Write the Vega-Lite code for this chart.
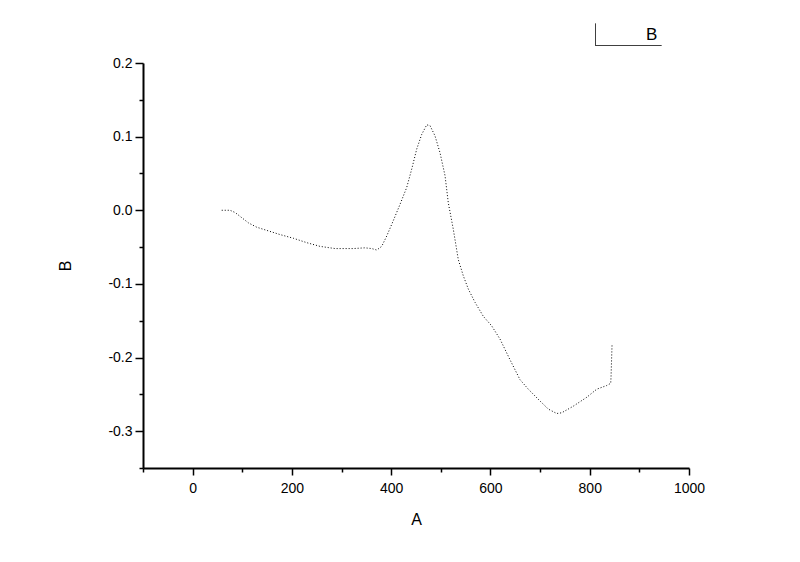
{
  "$schema": "https://vega.github.io/schema/vega-lite/v6.json",
  "width": 546,
  "height": 405,
  "autosize": "none",
  "padding": {"left": 143, "top": 63, "right": 111, "bottom": 94},
  "background": "white",
  "config": {"view": {"stroke": null}, "font": "Liberation Sans"},
  "data": {"values": [
    {"A": 58.6, "B": 0.0, "series": "B"},
    {"A": 75.3, "B": 0.0, "series": "B"},
    {"A": 85.4, "B": -0.003, "series": "B"},
    {"A": 98.9, "B": -0.010, "series": "B"},
    {"A": 112.2, "B": -0.017, "series": "B"},
    {"A": 129.1, "B": -0.023, "series": "B"},
    {"A": 152.5, "B": -0.028, "series": "B"},
    {"A": 176.1, "B": -0.033, "series": "B"},
    {"A": 202.9, "B": -0.038, "series": "B"},
    {"A": 229.9, "B": -0.044, "series": "B"},
    {"A": 256.6, "B": -0.049, "series": "B"},
    {"A": 286.9, "B": -0.052, "series": "B"},
    {"A": 323.7, "B": -0.052, "series": "B"},
    {"A": 347.3, "B": -0.051, "series": "B"},
    {"A": 360.8, "B": -0.052, "series": "B"},
    {"A": 370.9, "B": -0.054, "series": "B"},
    {"A": 380.9, "B": -0.049, "series": "B"},
    {"A": 391.0, "B": -0.035, "series": "B"},
    {"A": 404.3, "B": -0.014, "series": "B"},
    {"A": 417.8, "B": 0.008, "series": "B"},
    {"A": 431.3, "B": 0.031, "series": "B"},
    {"A": 441.4, "B": 0.056, "series": "B"},
    {"A": 451.4, "B": 0.083, "series": "B"},
    {"A": 461.5, "B": 0.103, "series": "B"},
    {"A": 471.6, "B": 0.116, "series": "B"},
    {"A": 478.2, "B": 0.115, "series": "B"},
    {"A": 488.3, "B": 0.101, "series": "B"},
    {"A": 498.4, "B": 0.078, "series": "B"},
    {"A": 508.5, "B": 0.047, "series": "B"},
    {"A": 515.1, "B": 0.010, "series": "B"},
    {"A": 525.2, "B": -0.026, "series": "B"},
    {"A": 535.2, "B": -0.067, "series": "B"},
    {"A": 545.3, "B": -0.089, "series": "B"},
    {"A": 555.4, "B": -0.107, "series": "B"},
    {"A": 568.9, "B": -0.125, "series": "B"},
    {"A": 585.6, "B": -0.144, "series": "B"},
    {"A": 602.5, "B": -0.157, "series": "B"},
    {"A": 619.3, "B": -0.175, "series": "B"},
    {"A": 639.4, "B": -0.203, "series": "B"},
    {"A": 659.5, "B": -0.230, "series": "B"},
    {"A": 676.3, "B": -0.243, "series": "B"},
    {"A": 699.8, "B": -0.259, "series": "B"},
    {"A": 716.6, "B": -0.270, "series": "B"},
    {"A": 733.5, "B": -0.276, "series": "B"},
    {"A": 743.6, "B": -0.275, "series": "B"},
    {"A": 767.0, "B": -0.266, "series": "B"},
    {"A": 793.9, "B": -0.254, "series": "B"},
    {"A": 814.1, "B": -0.243, "series": "B"},
    {"A": 834.2, "B": -0.238, "series": "B"},
    {"A": 842.3, "B": -0.235, "series": "B"},
    {"A": 843.0, "B": -0.225, "series": "B"},
    {"A": 845.0, "B": -0.182, "series": "B"}
  ]},
  "mark": {"type": "line", "strokeDash": [1, 2], "strokeWidth": 1},
  "encoding": {
    "x": {
      "field": "A", "type": "quantitative",
      "scale": {"domain": [-100, 1000], "nice": false, "zero": false},
      "axis": {
        "title": "A", "grid": false,
        "values": [-100, 0, 100, 200, 300, 400, 500, 600, 700, 800, 900, 1000],
        "labelExpr": "datum.value % 200 == 0 ? format(datum.value, 'd') : ''",
        "labelFlush": false, "labelOverlap": false,
        "domainColor": "black", "domainWidth": 2,
        "tickColor": "black", "tickWidth": 1.5,
        "tickSize": {"condition": {"test": "datum.value % 200 == 0", "value": 7}, "value": 4},
        "labelColor": "black", "labelFontSize": 14, "labelPadding": 6,
        "labelFont": "Liberation Sans",
        "titleFont": "Liberation Sans", "titleFontSize": 16, "titleFontWeight": "normal",
        "titleColor": "black", "titlePadding": 16
      }
    },
    "y": {
      "field": "B", "type": "quantitative",
      "scale": {"domain": [-0.35, 0.2], "nice": false, "zero": false},
      "axis": {
        "title": "B", "grid": false,
        "values": [-0.35, -0.3, -0.25, -0.2, -0.15, -0.1, -0.05, 0, 0.05, 0.1, 0.15, 0.2],
        "labelExpr": "abs(datum.value * 10 - round(datum.value * 10)) < 0.01 ? replace(format(datum.value, '.1f'), '\u2212', '-') : ''",
        "labelFlush": false, "labelOverlap": false,
        "domainColor": "black", "domainWidth": 2,
        "tickColor": "black", "tickWidth": 1.5,
        "tickSize": {"condition": {"test": "abs(datum.value * 10 - round(datum.value * 10)) < 0.01", "value": 8}, "value": 4},
        "labelColor": "black", "labelFontSize": 14, "labelPadding": 3,
        "labelFont": "Liberation Sans",
        "titleFont": "Liberation Sans", "titleFontSize": 16, "titleFontWeight": "normal",
        "titleColor": "black", "titlePadding": 34
      }
    },
    "color": {
      "field": "series", "type": "nominal",
      "scale": {"range": ["black"]},
      "legend": {
        "title": null,
        "orient": "none",
        "legendX": 452,
        "legendY": -40,
        "padding": 0,
        "symbolType": "M-1,-1V1H5",
        "symbolSize": 484,
        "symbolStrokeWidth": 1,
        "symbolDash": [1, 0],
        "symbolStrokeColor": "black",
        "symbolFillColor": "transparent",
        "labelOffset": 28,
        "labelFontSize": 17,
        "labelFont": "Liberation Sans",
        "labelColor": "black",
        "encode": {"symbols": {"update": {"fill": {"value": "transparent"}, "stroke": {"value": "black"}, "strokeDash": {"value": [1, 0]}}}}
      }
    }
  }
}
